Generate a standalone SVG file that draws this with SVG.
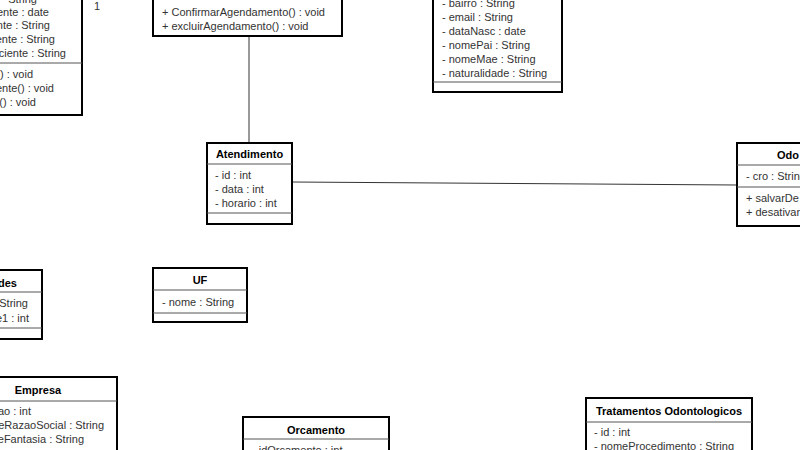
<svg xmlns="http://www.w3.org/2000/svg" width="800" height="450" viewBox="0 0 800 450">
<style>
text{font-family:"Liberation Sans",Arial,sans-serif;font-size:11px;fill:#333}
.t{font-weight:bold;fill:#000;text-anchor:middle}
.e{text-anchor:end}
.box{fill:#fff;stroke:#000;stroke-width:2}
.sep{stroke:#555;stroke-width:1}
.c{stroke:#333;stroke-width:1;fill:none}
</style>
<rect width="800" height="450" fill="#fff"/>
<g id="connectors">
<line class="c" x1="249" y1="36" x2="249" y2="143"/>
<line class="c" x1="292" y1="182" x2="737" y2="185"/>
<text x="94" y="10">1</text>
</g>
<g id="paciente">
<rect class="box" x="-60" y="-40" width="142" height="155"/>
<line class="sep" x1="-60" y1="63" x2="82" y2="63"/>
<text class="e" x="37" y="3">String</text>
<text class="e" x="49" y="16">ente : date</text>
<text class="e" x="50" y="29">nte : String</text>
<text class="e" x="55" y="43">ente : String</text>
<text class="e" x="66" y="57">ciente : String</text>
<text class="e" x="33" y="78">) : void</text>
<text class="e" x="54" y="92">ente() : void</text>
<text class="e" x="36" y="106">() : void</text>
</g>
<g id="agendamento">
<rect class="box" x="153" y="-20" width="189" height="56"/>
<text x="162" y="16">+ ConfirmarAgendamento() : void</text>
<text x="162" y="30">+ excluirAgendamento() : void</text>
</g>
<g id="pessoa">
<rect class="box" x="433" y="-40" width="129" height="132"/>
<line class="sep" x1="433" y1="82" x2="562" y2="82"/>
<text x="442" y="7">- bairro : String</text>
<text x="442" y="21">- email : String</text>
<text x="442" y="35">- dataNasc : date</text>
<text x="442" y="49">- nomePai : String</text>
<text x="442" y="63">- nomeMae : String</text>
<text x="442" y="77">- naturalidade : String</text>
</g>
<g id="atendimento">
<rect class="box" x="207" y="143" width="85" height="81"/>
<text class="t" x="249.5" y="158">Atendimento</text>
<line class="sep" x1="207" y1="164" x2="292" y2="164"/>
<text x="215" y="179">- id : int</text>
<text x="215" y="193">- data : int</text>
<text x="215" y="207">- horario : int</text>
<line class="sep" x1="207" y1="213" x2="292" y2="213"/>
</g>
<g id="odontologo">
<rect class="box" x="737" y="143" width="90" height="83"/>
<text x="777" y="159" style="font-weight:bold;fill:#000">Odo</text>
<line class="sep" x1="737" y1="165" x2="827" y2="165"/>
<text x="746" y="180">- cro : String</text>
<line class="sep" x1="737" y1="187" x2="827" y2="187"/>
<text x="746" y="202">+ salvarDe</text>
<text x="746" y="216">+ desativar</text>
</g>
<g id="especialidades">
<rect class="box" x="-60" y="270" width="102" height="69"/>
<text class="e" x="17" y="287" style="font-weight:bold;fill:#000">des</text>
<line class="sep" x1="-60" y1="292" x2="42" y2="292"/>
<text class="e" x="28" y="307">String</text>
<text class="e" x="29" y="322">e1 : int</text>
<line class="sep" x1="-60" y1="328" x2="42" y2="328"/>
</g>
<g id="uf">
<rect class="box" x="153" y="268" width="94" height="54"/>
<text class="t" x="200" y="284">UF</text>
<line class="sep" x1="153" y1="290" x2="247" y2="290"/>
<text x="162" y="306">- nome : String</text>
<line class="sep" x1="153" y1="313" x2="247" y2="313"/>
</g>
<g id="empresa">
<rect class="box" x="-41" y="377" width="158" height="95"/>
<text class="t" x="38" y="394">Empresa</text>
<line class="sep" x1="-41" y1="401" x2="117" y2="401"/>
<text class="e" x="31" y="415">zao : int</text>
<text class="e" x="104" y="429">eRazaoSocial : String</text>
<text class="e" x="84" y="443">eFantasia : String</text>
</g>
<g id="orcamento">
<rect class="box" x="243" y="417" width="146" height="55"/>
<text class="t" x="316" y="434">Orcamento</text>
<line class="sep" x1="243" y1="439" x2="389" y2="439"/>
<text x="252" y="454">- idOrcamento : int</text>
</g>
<g id="tratamentos">
<rect class="box" x="586" y="398" width="166" height="74"/>
<text class="t" x="669" y="415">Tratamentos Odontologicos</text>
<line class="sep" x1="586" y1="422" x2="752" y2="422"/>
<text x="594" y="436">- id : int</text>
<text x="594" y="450">- nomeProcedimento : String</text>
</g>
</svg>
